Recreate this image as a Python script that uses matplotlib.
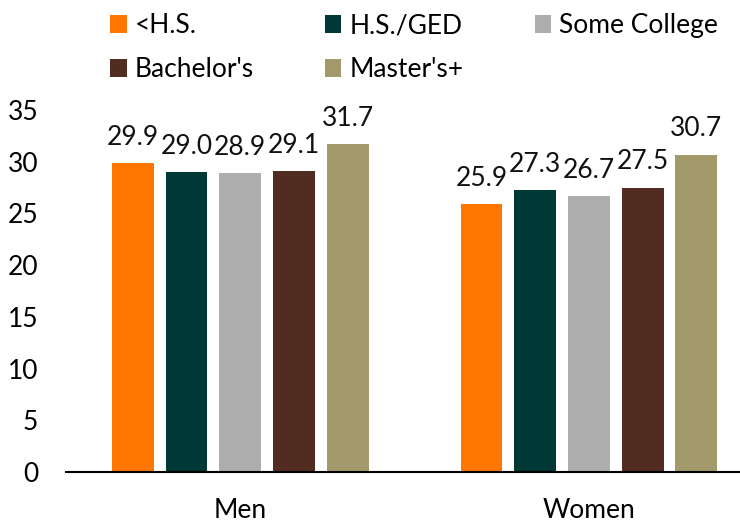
import matplotlib

matplotlib.use("Agg")
import matplotlib.pyplot as plt
import numpy as np

plt.rcParams["font.family"] = ["Lato", "DejaVu Sans"]

groups = ["Men", "Women"]
categories = ["<H.S.", "H.S./GED", "Some College", "Bachelor's", "Master's+"]
values = {
    "<H.S.": [29.9, 25.9],
    "H.S./GED": [29.0, 27.3],
    "Some College": [28.9, 26.7],
    "Bachelor's": [29.1, 27.5],
    "Master's+": [31.7, 30.7],
}
colors = ["#FF7600", "#003835", "#ADADAD", "#522C20", "#A29A6A"]

fig = plt.figure(figsize=(7.4, 5.22), dpi=100)
ax = fig.add_axes([0.089, 0.096, 0.911, 0.693])

x = np.arange(len(groups))
width = 0.12
pitch = 0.154
handles = []
for i, (cat, col) in enumerate(zip(categories, colors)):
    pos = x + (i - 2) * pitch
    bars = ax.bar(pos, values[cat], width, color=col, label=cat)
    handles.append(bars)
    for b, v in zip(bars, values[cat]):
        ax.annotate(f"{v:.1f}", (b.get_x() + b.get_width() / 2, v),
                    xytext=(0, 9.5), textcoords="offset points",
                    ha="center", va="bottom", fontsize=19, color="#111111")

ax.set_ylim(0, 35)
ax.set_xlim(-0.5, 1.433)
ax.set_yticks(range(0, 36, 5))
ax.set_xticks(x)
ax.set_xticklabels(groups, fontsize=19)
ax.tick_params(axis="y", length=0, pad=20, labelsize=19)
ax.tick_params(axis="x", length=0, pad=19)
for s in ("left", "right", "top"):
    ax.spines[s].set_visible(False)
ax.spines["bottom"].set_linewidth(1.5)

# legend fills column by column, so reorder to read row by row
order = [0, 3, 1, 4, 2]
fig.legend([handles[k] for k in order], [categories[k] for k in order],
           ncol=3, loc="upper left", bbox_to_anchor=(0.117, 1.02),
           frameon=False, fontsize=19, handlelength=0.62, handleheight=0.62,
           handletextpad=0.3, columnspacing=2.7, labelspacing=0.72)

fig.savefig("out.png", dpi=100)
